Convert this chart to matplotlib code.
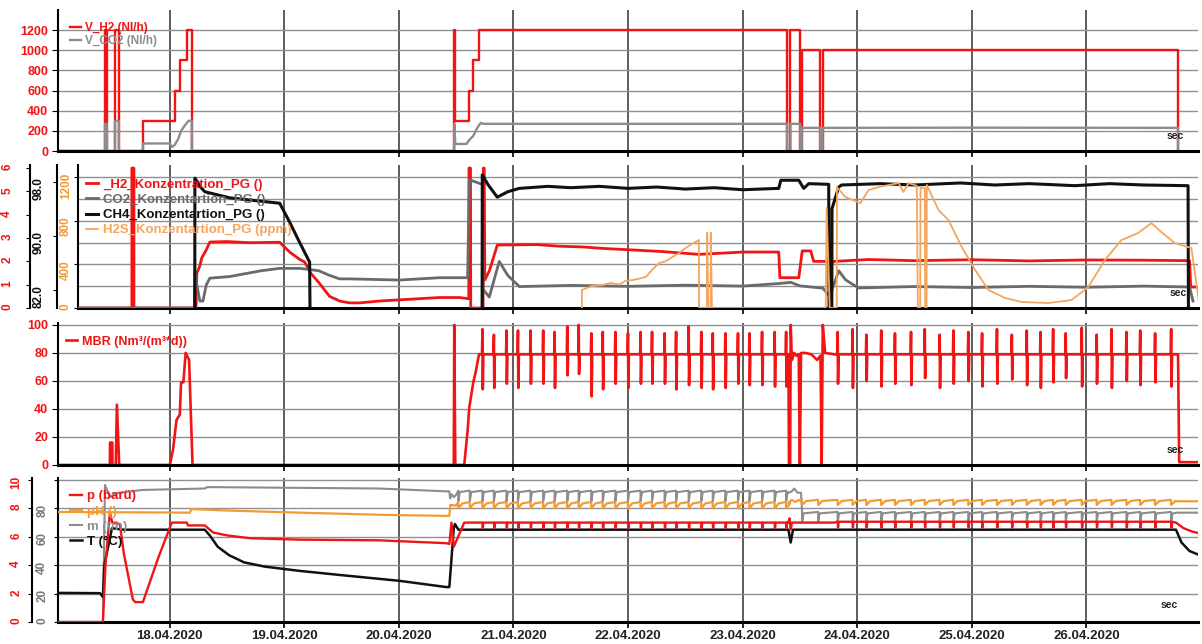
import numpy as np
import matplotlib
matplotlib.use("Agg")
import matplotlib.pyplot as plt
import matplotlib.dates as mdates
from matplotlib.ticker import MultipleLocator, FixedLocator

plt.rcParams['font.family'] = ['Liberation Sans', 'DejaVu Sans']
plt.rcParams['font.weight'] = 'bold'

RED = '#f01414'
GREY = '#8c8c8c'
DGREY = '#6a6a6a'
BLACK = '#111111'
ORANGE = '#f5a55c'
ORANGE2 = '#f39a32'

# time axis: days since 17.04.2020 00:00
base = mdates.date2num(np.datetime64('2020-04-17T00:00'))

# ---- panel 1: gas flows (Nl/h)
vh2_t = [0.026, 0.436, 0.436, 0.453, 0.453, 0.523, 0.523, 0.557, 0.557, 0.767, 0.767, 1.045, 1.045,
         1.089, 1.089, 1.150, 1.150, 1.193, 1.193, 3.484, 3.484, 3.493, 3.493, 3.615, 3.615, 3.650,
         3.650, 3.702, 3.702, 6.388, 6.388, 6.418, 6.418, 6.504, 6.504, 6.516, 6.516, 6.678, 6.678,
         6.698, 6.698, 9.800, 9.800]
vh2_v = [0, 0, 1200, 1200, 0, 0, 1200, 1200, 0, 0, 300, 300, 600,
         600, 900, 900, 1200, 1200, 0, 0, 1200, 1200, 300, 300, 600, 600,
         900, 900, 1200, 1200, 0, 0, 1200, 1200, 0, 0, 1000, 1000, 0,
         0, 1000, 1000, 0]
vco2_t = [0.026, 0.436, 0.436, 0.453, 0.453, 0.523, 0.523, 0.557, 0.557, 0.767, 0.767, 1.002, 1.020,
          1.045, 1.075, 1.100, 1.130, 1.165, 1.193, 1.193, 3.484, 3.484, 3.493, 3.590, 3.615, 3.650,
          3.685, 3.715, 3.740, 6.388, 6.388, 6.418, 6.418, 6.504, 6.504, 6.516, 6.516, 6.678, 6.678,
          6.698, 6.698, 8.0, 9.800, 9.800]
vco2_v = [0, 0, 270, 270, 0, 0, 300, 300, 0, 0, 75, 75, 40,
          60, 120, 200, 250, 300, 300, 0, 0, 270, 70, 70, 110, 150,
          230, 280, 270, 270, 0, 0, 270, 270, 0, 0, 230, 230, 0,
          0, 230, 232, 230, 0]

# ---- panel 2: gas concentrations
h2_t = [0.2, 0.670, 0.670, 0.688, 0.688, 1.230, 1.237, 1.263, 1.280, 1.320, 1.350, 1.500, 1.700, 1.960,
        2.047, 2.130, 2.178, 2.230, 2.300, 2.395, 2.483, 2.570, 2.657, 2.831, 3.005, 3.354, 3.528, 3.610,
        3.612, 3.625, 3.627, 3.735, 3.737, 3.745, 3.750, 3.790, 3.859, 4.2, 4.4, 4.6, 4.8, 5.0, 5.3,
        5.618, 6.0, 6.315, 6.325, 6.490, 6.520, 6.594, 6.620, 6.751, 6.770, 6.800, 7.1, 7.5, 8.0, 8.5,
        9.0, 9.5, 9.900, 9.910, 9.990]
h2_v = [0, 0, 6.0, 6.0, 0, 0, 1.5, 1.8, 2.15, 2.5, 2.83, 2.85, 2.8, 2.82,
        2.4, 2.1, 1.97, 1.5, 1.1, 0.5, 0.3, 0.22, 0.22, 0.3, 0.35, 0.45, 0.45, 0.4,
        6.0, 6.0, 0, 0, 6.0, 6.0, 1.2, 1.6, 2.7, 2.72, 2.65, 2.62, 2.55, 2.5, 2.42,
        2.3, 2.4, 2.4, 1.3, 1.3, 2.45, 2.45, 2.0, 2.0, 1.9, 2.0, 2.08, 2.03, 2.07, 2.02,
        2.06, 2.05, 2.03, 0.9, 0.9]
co2_t = [0.2, 1.215, 1.220, 1.237, 1.263, 1.290, 1.320, 1.350, 1.524, 1.800, 1.960, 2.134, 2.221,
         2.300, 2.395, 2.483, 2.570, 3.005, 3.354, 3.600, 3.615, 3.728, 3.735, 3.789, 3.876, 3.950,
         4.051, 4.5, 5.0, 5.5, 6.0, 6.315, 6.420, 6.500, 6.700, 6.760, 6.838, 6.900, 7.012, 7.5, 8.0,
         8.5, 9.0, 9.5, 9.900, 9.930]
co2_v = [0, 0, 1.5, 1.0, 0.3, 0.3, 1.0, 1.28, 1.35, 1.6, 1.7, 1.7, 1.65,
         1.6, 1.4, 1.25, 1.25, 1.2, 1.3, 1.3, 5.5, 5.3, 0.8, 0.47, 2.0, 1.4,
         0.92, 0.97, 0.93, 0.98, 0.94, 1.05, 1.1, 0.95, 0.85, 0.5, 1.6, 1.2, 0.86, 0.92, 0.88,
         0.93, 0.89, 0.94, 0.9, 0.3]
ch4_t = [0.2, 1.215, 1.220, 1.240, 1.263, 1.307, 1.524, 1.960, 2.047, 2.134, 2.221, 2.265, 3.720,
         3.728, 3.780, 3.859, 3.950, 4.051, 4.3, 4.5, 4.75, 5.0, 5.25, 5.5, 5.75, 6.0, 6.315, 6.333,
         6.490, 6.533, 6.577, 6.751, 6.768, 6.780, 6.838, 6.864, 7.2, 7.5, 7.9, 8.2, 8.5, 8.9, 9.2,
         9.5, 9.887, 9.904]
ch4_v = [0, 0, 98.5, 98.0, 97.3, 96.5, 95.6, 94.8, 92.0, 89.0, 86.1, 0, 0,
         99.0, 97.5, 95.7, 96.5, 97.0, 97.3, 97.1, 97.3, 97.0, 97.2, 96.9, 97.1, 96.8, 97.0, 98.2,
         98.2, 97.0, 97.7, 97.6, 0, 94.0, 97.2, 97.5, 97.7, 97.5, 97.8, 97.5, 97.7, 97.4, 97.7,
         97.5, 97.4, 0]
h2s_t = [4.597, 4.597, 4.680, 4.777, 4.850, 4.922, 4.980, 5.038, 5.100, 5.154, 5.210, 5.270, 5.330,
         5.386, 5.440, 5.503, 5.560, 5.618, 5.620, 5.688, 5.690, 5.700, 5.720, 5.722, 5.732, 6.725,
         6.733, 6.760, 6.821, 6.823, 6.896, 6.983, 7.027, 7.099, 7.186, 7.274, 7.361, 7.404, 7.448,
         7.520, 7.529, 7.549, 7.552, 7.590, 7.593, 7.605, 7.607, 7.709, 7.796, 7.912, 8.029, 8.145,
         8.290, 8.435, 8.667, 8.870, 9.016, 9.161, 9.306, 9.451, 9.567, 9.654, 9.771, 9.916, 9.989]
h2s_v = [0, 165, 200, 210, 230, 215, 250, 256, 270, 284, 350, 412, 430,
         467, 500, 550, 590, 623, 0, 0, 690, 0, 0, 690, 0, 0,
         916, 0, 0, 1108, 1017, 980, 962, 1081, 1108, 1127, 1145, 1063, 1145,
         1120, 0, 0, 1100, 1100, 0, 0, 1127, 898, 806, 559, 348, 165,
         92, 55, 46, 73, 192, 440, 623, 687, 778, 696, 595, 550, 0]

# ---- dosing events (spikes in MBR, teeth in panel 4)
ev1 = [3.73, 3.83, 3.94, 4.04, 4.15, 4.26, 4.36, 4.47, 4.57, 4.68, 4.78, 4.89, 5.00,
       5.11, 5.21, 5.32, 5.42, 5.53, 5.64, 5.74, 5.85, 5.96, 6.06, 6.17, 6.28, 6.38]
ev2 = [6.83, 6.96, 7.08, 7.21, 7.33, 7.47, 7.59, 7.72, 7.84, 7.97, 8.09, 8.22,
       8.35, 8.48, 8.60, 8.71, 8.82, 8.96, 9.09, 9.22, 9.35, 9.47, 9.60, 9.74]

# ---- panel 3: MBR
mbr_head_t = [0.026, 0.479, 0.480, 0.500, 0.501, 0.530, 0.540, 0.560, 1.002, 1.030, 1.060, 1.089,
              1.100, 1.120, 1.140, 1.170, 1.200, 3.480, 3.484, 3.493, 3.571, 3.600, 3.615, 3.650,
              3.670, 3.700, 3.720]
mbr_head_v = [0, 0, 16, 16, 0, 0, 43, 0, 0, 11, 32, 36,
              59, 59, 80, 75, 0, 0, 100, 0, 0, 24, 41, 59,
              66, 79, 79]
mbr_peak1 = [97, 93, 96, 96, 96, 96, 95, 99, 100, 94, 95, 95, 94,
             95, 95, 94, 95, 99, 95, 94, 94, 94, 94, 95, 95, 95]
mbr_dip1 = [54, 55, 58, 55, 58, 58, 55, 64, 65, 49, 54, 58, 55,
            58, 58, 58, 54, 57, 55, 54, 55, 58, 57, 57, 56, 56]
mbr_mid_t = [6.40, 6.405, 6.415, 6.42, 6.43, 6.45, 6.47, 6.49, 6.50, 6.51, 6.55, 6.60, 6.65,
             6.68, 6.69, 6.70, 6.72, 6.80]
mbr_mid_v = [79, 0, 0, 100, 75, 80, 78, 79, 0, 80, 80, 79, 75,
             78, 0, 100, 80, 79]
mbr_peak2 = [95, 97, 93, 96, 94, 95, 97, 93, 96, 95, 94, 97,
             93, 96, 95, 97, 94, 98, 93, 97, 95, 96, 94, 97]
mbr_dip2 = [58, 55, 60, 56, 58, 57, 62, 55, 58, 60, 56, 58,
            61, 57, 55, 59, 62, 56, 58, 55, 60, 57, 59, 56]
mbr_tail_t = [9.80, 9.81, 9.99]
mbr_tail_v = [79, 2, 2]

# ---- panel 4: p (bar), pH, m, T
p_head_t = [0.026, 0.418, 0.440, 0.479, 0.500, 0.566, 0.600, 0.679, 0.700, 0.767, 0.900, 1.019,
            1.150, 1.160, 1.307, 1.380, 1.500, 1.700, 2.134, 2.831, 3.415, 3.441, 3.460, 3.480, 3.571]
p_head_v = [0, 0, 4.0, 7.7, 7.0, 6.9, 4.85, 1.6, 1.4, 1.4, 4.5, 7.0,
            7.0, 6.8, 6.8, 6.3, 6.1, 5.9, 5.8, 5.75, 5.55, 5.5, 7.0, 5.3, 7.0]
p_mid_t = [6.40, 6.41, 6.42, 6.43, 6.80]
p_mid_v = [7.0, 7.3, 6.5, 7.0, 7.0]
p_tail_t = [9.782, 9.85, 9.93, 9.99]
p_tail_v = [7.0, 6.6, 6.35, 6.25]

ph_head_t = [0.026, 1.176, 1.190, 1.500, 2.134, 2.831, 3.415, 3.441, 3.450, 3.50]
ph_head_v = [7.75, 7.7, 7.95, 7.85, 7.7, 7.55, 7.47, 7.47, 8.24, 8.2]
ph_mid_t = [6.40, 6.43, 6.46, 6.49, 6.51]
ph_mid_v = [8.4, 8.6, 8.45, 8.6, 8.5]
ph_tail_t = [9.80, 9.99]
ph_tail_v = [8.5, 8.5]

m_head_t = [0.026, 0.418, 0.436, 0.479, 0.550, 0.767, 1.307, 1.330, 2.134, 2.831, 3.415, 3.441,
            3.448, 3.460, 3.480, 3.500]
m_head_v = [0, 0, 96.5, 88, 91, 93, 94, 95, 94.5, 94, 92, 92,
            87, 90, 88, 89.5]
m_mid_t = [6.40, 6.43, 6.45, 6.48, 6.51]
m_mid_v = [91, 92, 94, 91, 91]
m_tail_t = [9.80, 9.99]
m_tail_v = [77, 77]
teeth1 = [3.52, 3.62] + ev1
teeth2 = [6.52, 6.66] + ev2

t_t = [0.026, 0.392, 0.418, 0.430, 0.497, 0.600, 1.307, 1.350, 1.420, 1.520, 1.650, 1.830, 2.134,
       2.5, 3.005, 3.415, 3.441, 3.480, 3.490, 3.520, 6.40, 6.42, 6.44, 9.782, 9.830, 9.900, 9.99]
t_v = [20.5, 20.3, 17.6, 40, 66, 65, 65, 61, 53, 47, 42, 39, 36,
       33, 29, 24.6, 24.6, 66, 69, 65, 65, 56, 65, 65, 56, 50, 47]


def spikes(times, peaks, dips, level):
    xs, ys = [], []
    for t, hi, lo in zip(times, peaks, dips):
        xs += [t - 0.004, t, t + 0.003, t + 0.008]
        ys += [level, hi, lo, level]
    return xs, ys


def teeth(times, hi, lo, rise, back):
    xs, ys = [], []
    for t in times:
        xs += [t - 0.001, t, t + rise]
        ys += [hi, lo, hi - back]
    return xs, ys


def join(*parts):
    xs, ys = [], []
    for px, py in parts:
        xs += list(px)
        ys += list(py)
    return base + np.array(xs), np.array(ys)


mbr_x, mbr_y = join((mbr_head_t, mbr_head_v), spikes(ev1, mbr_peak1, mbr_dip1, 79),
                    (mbr_mid_t, mbr_mid_v), spikes(ev2, mbr_peak2, mbr_dip2, 79),
                    (mbr_tail_t, mbr_tail_v))
p_x, p_y = join((p_head_t, p_head_v), spikes(ev1, [7.0] * len(ev1), [6.6] * len(ev1), 7.0),
                (p_mid_t, p_mid_v), spikes(ev2, [7.06] * len(ev2), [6.65] * len(ev2), 7.06),
                (p_tail_t, p_tail_v))
ph_x, ph_y = join((ph_head_t, ph_head_v), teeth(teeth1, 8.45, 8.0, 0.035, 0.1),
                  (ph_mid_t, ph_mid_v), teeth(teeth2, 8.6, 8.24, 0.035, 0.08),
                  (ph_tail_t, ph_tail_v))
m_x, m_y = join((m_head_t, m_head_v), teeth(teeth1, 92.5, 85, 0.012, 1.0),
                (m_mid_t, m_mid_v), teeth(teeth2, 77.5, 70.5, 0.012, 1.0),
                (m_tail_t, m_tail_v))

fig = plt.figure(figsize=(12.02, 6.44), dpi=100)

XL_A = (base + 0.026, base + 9.974)
XL_B = (base + 0.200, base + 9.974)


def style_host(ax, xl, labels=False):
    ax.set_xlim(xl)
    ax.xaxis.set_major_locator(mdates.DayLocator())
    ax.xaxis.set_major_formatter(mdates.DateFormatter('%d.%m.%Y'))
    ax.grid(axis='x', color='#505050', lw=1.3)
    ax.grid(axis='y', which='both', color='#909090', lw=1.0)
    ax.set_axisbelow(True)
    for s in ['top', 'right']:
        ax.spines[s].set_visible(False)
    ax.spines['bottom'].set_linewidth(2.2)
    ax.spines['left'].set_linewidth(1.5)
    ax.tick_params(axis='x', length=4, width=1.2, labelsize=9.5, labelcolor='#222222',
                   labelbottom=labels, pad=2)


def left_twin(ax, pos):
    t = ax.twinx()
    t.yaxis.set_ticks_position('left')
    t.yaxis.set_label_position('left')
    t.spines['left'].set_position(('axes', pos))
    t.spines['left'].set_visible(True)
    t.spines['left'].set_linewidth(1.5)
    for s in ['right', 'top', 'bottom']:
        t.spines[s].set_visible(False)
    return t


def sec(ax, x, y):
    ax.text(x, y, 'sec', transform=ax.transAxes, ha='center', va='center',
            fontsize=7.5, color='#222222', zorder=10)


# ---------- panel 1
ax1 = fig.add_axes([0.04825, 0.7655, 0.9484, 0.2189])
style_host(ax1, XL_A)
ax1.set_ylim(0, 1400)
ax1.yaxis.set_major_locator(FixedLocator([0, 200, 400, 600, 800, 1000, 1200]))
ax1.tick_params(axis='y', labelcolor=RED, labelsize=9, length=4, pad=3)
l_h2, = ax1.plot(base + np.array(vh2_t), vh2_v, color=RED, lw=1.7, label='V_H2 (Nl/h)')
l_co2, = ax1.plot(base + np.array(vco2_t), vco2_v, color=GREY, lw=1.7, label='V_CO2 (Nl/h)')
ax1.legend(handles=[l_h2, l_co2], loc='upper left', bbox_to_anchor=(0.0105, 0.915), frameon=False,
           handlelength=0.9, handletextpad=0.4, labelspacing=0.1, borderaxespad=0, borderpad=0,
           labelcolor='linecolor', prop={'size': 8.5, 'weight': 'bold'})
sec(ax1, 0.98, 0.106)

# ---------- panel 2
ax2 = fig.add_axes([0.0649, 0.5217, 0.9318, 0.2220])
style_host(ax2, XL_B)
ax2.set_ylim(0, 1310)
ax2.yaxis.set_major_locator(FixedLocator([0, 400, 800, 1200]))
ax2.yaxis.set_minor_locator(FixedLocator([200, 600, 1000]))
ax2.tick_params(axis='y', which='both', labelcolor=ORANGE2, labelsize=8.5, labelrotation=90,
                length=3, pad=1.5)
ax2.tick_params(axis='y', which='minor', length=0)
ax2r = left_twin(ax2, -0.0429)
ax2r.set_ylim(0, 6.13)
ax2r.yaxis.set_major_locator(MultipleLocator(1))
ax2r.tick_params(axis='y', labelcolor=RED, labelsize=8.5, labelrotation=90, length=3, pad=9)
ax2k = left_twin(ax2, -0.01875)
ax2k.set_ylim(79.3, 100.45)
ax2k.yaxis.set_major_locator(FixedLocator([82, 90, 98]))
ax2k.yaxis.set_major_formatter(matplotlib.ticker.FormatStrFormatter('%.1f'))
ax2k.tick_params(axis='y', labelcolor=BLACK, labelsize=8.5, labelrotation=90, length=3, pad=6)
ax2o = ax2.twinx()
ax2o.set_ylim(0, 1310)
ax2o.axis('off')
l_a, = ax2r.plot(base + np.array(h2_t), h2_v, color=RED, lw=2.0, label='_H2_Konzentration_PG ()')
l_b, = ax2r.plot(base + np.array(co2_t), co2_v, color=DGREY, lw=2.0, label='CO2_Konzentartion_PG ()')
l_c, = ax2k.plot(base + np.array(ch4_t), ch4_v, color=BLACK, lw=2.2, label='CH4_Konzentartion_PG ()')
l_d, = ax2o.plot(base + np.array(h2s_t), h2s_v, color=ORANGE, lw=1.3, label='H2S_Konzentartion_PG (ppm)')
ax2o.legend(handles=[l_a, l_b, l_c, l_d], loc='upper left', bbox_to_anchor=(0.007, 0.905),
            frameon=False, handlelength=0.9, handletextpad=0.4, labelspacing=0.22, borderaxespad=0,
            borderpad=0, labelcolor='linecolor', prop={'size': 9.5, 'weight': 'bold'})
sec(ax2o, 0.982, 0.105)

# ---------- panel 3
ax3 = fig.add_axes([0.04825, 0.2780, 0.9484, 0.2205])
style_host(ax3, XL_A)
ax3.set_ylim(0, 101.4)
ax3.yaxis.set_major_locator(MultipleLocator(20))
ax3.tick_params(axis='y', labelcolor=RED, labelsize=9, length=4, pad=3)
l_m, = ax3.plot(mbr_x, mbr_y, color=RED, lw=1.9, label='MBR (Nm³/(m³*d))')
ax3.legend(handles=[l_m], loc='upper left', bbox_to_anchor=(0.007, 0.91), frameon=False,
           handlelength=0.9, handletextpad=0.4, borderaxespad=0, borderpad=0,
           labelcolor='linecolor', prop={'size': 9, 'weight': 'bold'})
sec(ax3, 0.98, 0.106)

# ---------- panel 4
ax4 = fig.add_axes([0.04825, 0.03416, 0.9484, 0.2236])
style_host(ax4, XL_A, labels=True)
ax4.set_ylim(0, 101.4)
ax4.yaxis.set_major_locator(FixedLocator([0, 20, 40, 60, 80, 100]))
ax4.yaxis.set_major_formatter(matplotlib.ticker.FuncFormatter(lambda v, p: '' if v > 90 else '%d' % v))
ax4.tick_params(axis='y', labelcolor='#7a7a7a', labelsize=8.5, labelrotation=90, length=3, pad=4)
ax4r = left_twin(ax4, -0.0228)
ax4r.set_ylim(0, 10.14)
ax4r.yaxis.set_major_locator(MultipleLocator(2))
ax4r.tick_params(axis='y', labelcolor=RED, labelsize=8.5, labelrotation=90, length=3, pad=4)
l_mm, = ax4.plot(m_x, m_y, color=GREY, lw=1.5, label='m (t/h)')
l_t, = ax4.plot(base + np.array(t_t), t_v, color=BLACK, lw=1.8, label='T (°C)')
l_p, = ax4r.plot(p_x, p_y, color=RED, lw=1.7, label='p (barü)')
l_ph, = ax4r.plot(ph_x, ph_y, color=ORANGE2, lw=1.6, label='pH ()')
ax4r.legend(handles=[l_p, l_ph, l_mm, l_t], loc='upper left', bbox_to_anchor=(0.0105, 0.915),
            frameon=False, handlelength=0.9, handletextpad=0.4, labelspacing=0.22, borderaxespad=0,
            borderpad=0, labelcolor='linecolor', prop={'size': 9.5, 'weight': 'bold'})
sec(ax4r, 0.975, 0.118)

fig.savefig('out.png', dpi=100)
